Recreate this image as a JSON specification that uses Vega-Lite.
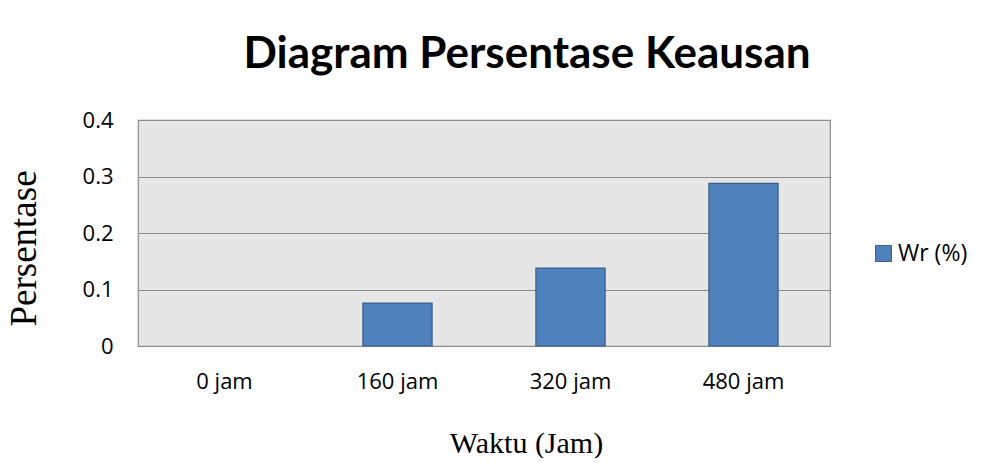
{
  "$schema": "https://vega.github.io/schema/vega-lite/v6.json",
  "width": 692,
  "height": 226,
  "padding": {"left": 5, "top": 33, "right": 5, "bottom": 0},
  "background": "white",
  "title": {
    "text": "Diagram Persentase Keausan",
    "font": "Lato",
    "fontSize": 44,
    "fontWeight": "bold",
    "color": "black",
    "anchor": "middle",
    "dx": 43,
    "offset": 32
  },
  "data": {
    "values": [
      {"waktu": "0 jam", "series": "Wr (%)", "persen": 0},
      {"waktu": "160 jam", "series": "Wr (%)", "persen": 0.076},
      {"waktu": "320 jam", "series": "Wr (%)", "persen": 0.138},
      {"waktu": "480 jam", "series": "Wr (%)", "persen": 0.288}
    ]
  },
  "mark": {"type": "bar", "stroke": "#3a5f8e", "strokeWidth": 1.2},
  "encoding": {
    "x": {
      "field": "waktu",
      "type": "nominal",
      "sort": null,
      "scale": {"paddingInner": 0.6, "paddingOuter": 0.3},
      "axis": {
        "title": "Waktu (Jam)",
        "titleFont": "Liberation Serif",
        "titleFontSize": 30,
        "titleFontWeight": "normal",
        "titleColor": "black",
        "titlePadding": 36,
        "titleX": 388,
        "labelFont": "Open Sans",
        "labelFontSize": 22,
        "labelColor": "black",
        "labelAngle": 0,
        "labelPadding": 25,
        "ticks": false,
        "tickSize": 0,
        "domain": false,
        "grid": false
      }
    },
    "y": {
      "field": "persen",
      "type": "quantitative",
      "scale": {"domain": [0, 0.4], "nice": false},
      "axis": {
        "title": "Persentase",
        "titleFont": "Liberation Serif",
        "titleFontSize": 37,
        "titleFontWeight": "normal",
        "titleColor": "black",
        "titlePadding": 39,
        "titleY": 128,
        "values": [0, 0.1, 0.2, 0.3, 0.4],
        "labelExpr": "datum.value == 0 ? '0' : format(datum.value, '.1f')",
        "labelFont": "Open Sans",
        "labelFontSize": 22,
        "labelColor": "black",
        "labelPadding": 25,
        "ticks": false,
        "tickSize": 0,
        "domain": false,
        "grid": true,
        "gridColor": "#8c8c8c",
        "gridWidth": 1.2
      }
    },
    "strokeOpacity": {
      "condition": {"test": "datum.persen == 0", "value": 0},
      "value": 1
    },
    "color": {
      "field": "series",
      "type": "nominal",
      "scale": {"range": ["#4f81bd"]},
      "legend": {
        "title": null,
        "orient": "none",
        "legendX": 734,
        "legendY": 122,
        "symbolType": "square",
        "symbolSize": 256,
        "symbolStrokeColor": "#3a5f8e",
        "symbolStrokeWidth": 1,
        "labelFont": "Open Sans",
        "labelFontSize": 23,
        "labelColor": "black",
        "labelOffset": 3,
        "padding": 0
      }
    }
  },
  "config": {
    "view": {"fill": "#e6e6e6", "stroke": "#8c8c8c", "strokeWidth": 1.2}
  }
}
